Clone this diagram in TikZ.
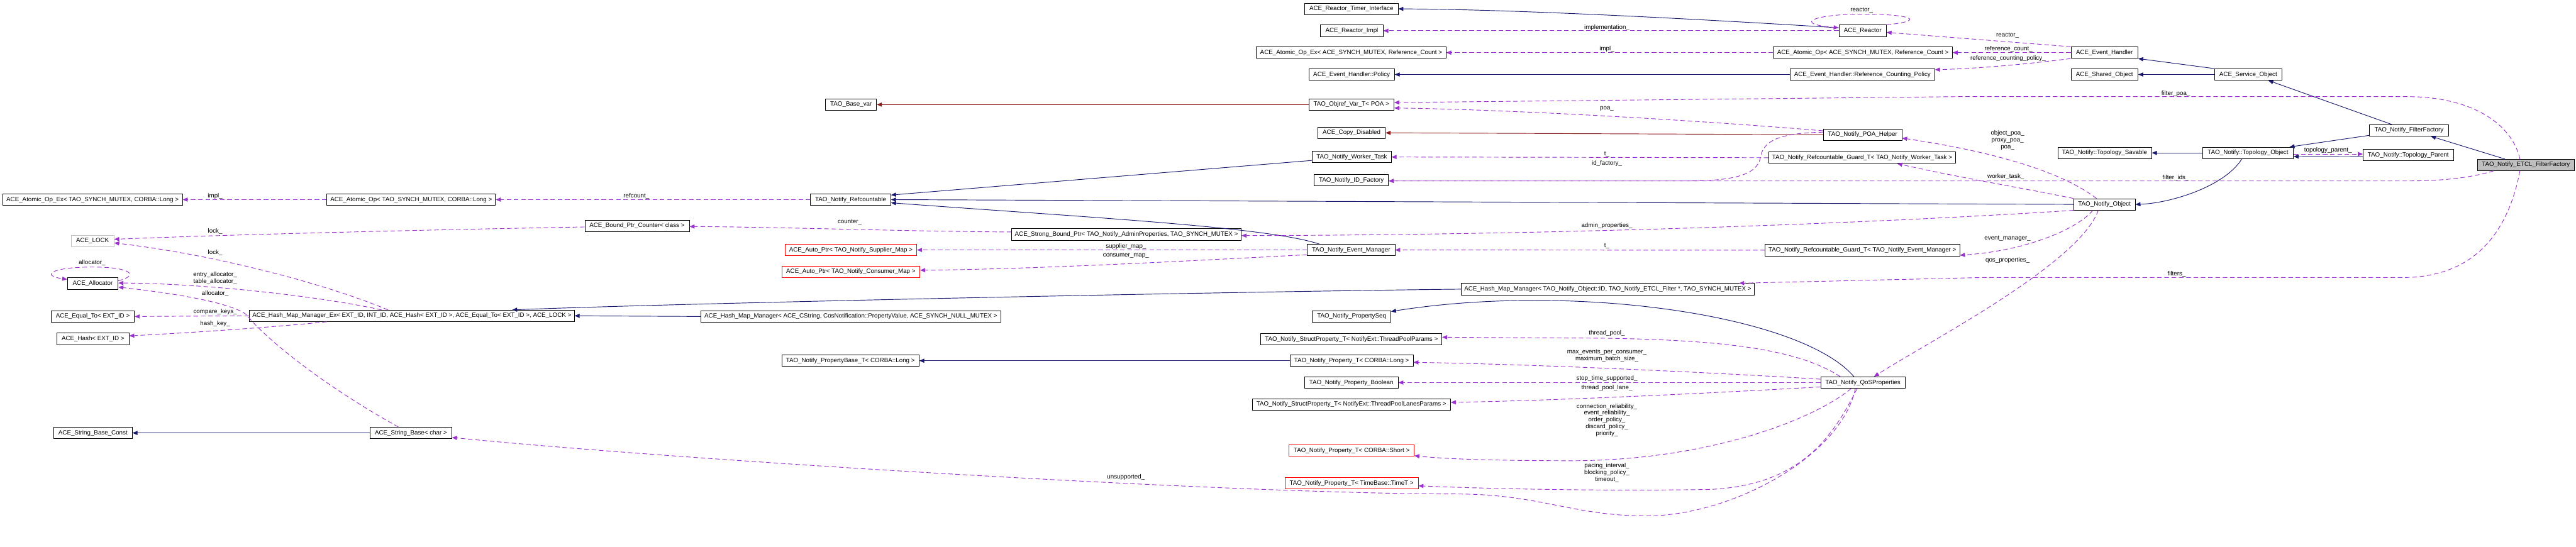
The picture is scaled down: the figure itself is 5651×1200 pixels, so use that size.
\documentclass[tikz,border=0pt]{standalone}
\usepackage{fontspec}
\setmainfont{Liberation Sans}
\usetikzlibrary{arrows.meta}
\definecolor{navyc}{HTML}{191970}
\definecolor{orchidc}{HTML}{9A32CD}
\definecolor{brickc}{HTML}{8B1A1A}
\definecolor{grayc}{HTML}{BFBFBF}
\begin{document}
\begin{tikzpicture}[x=1pt,y=-1pt,
  font=\fontsize{13.5pt}{15pt}\selectfont,
  boxn/.style={draw=black,line width=1.1pt,minimum height=25pt,inner sep=0pt,fill=white},
  redboxn/.style={boxn,draw=red},
  tipn/.style={-{Triangle[length=11pt,width=9pt]}},
  inhline/.style={draw=navyc,line width=1.3pt,tipn},
  privline/.style={draw=brickc,line width=1.3pt,tipn},
  usedash/.style={draw=orchidc,line width=1.3pt,dash pattern=on 10pt off 6pt,tipn},
  lblt/.style={inner sep=0pt,align=center}]
\useasboundingbox[fill=white] (0,0) rectangle (5651,1200);

% ---------- nodes ----------
\node[boxn,minimum width=205pt] (timer) at (2964.5,19.5) {ACE\_Reactor\_Timer\_Interface};
\node[boxn,minimum width=137pt] (rimpl) at (2965.5,67.5) {ACE\_Reactor\_Impl};
\node[boxn,minimum width=104pt] (reactor) at (4086,67.5) {ACE\_Reactor};
\node[boxn,minimum width=416pt] (aopexrc) at (2964,115.5) {ACE\_Atomic\_Op\_Ex< ACE\_SYNCH\_MUTEX, Reference\_Count >};
\node[boxn,minimum width=393pt] (aoprc) at (4086.5,115.5) {ACE\_Atomic\_Op< ACE\_SYNCH\_MUTEX, Reference\_Count >};
\node[boxn,minimum width=188pt] (ehpol) at (2965,163.5) {ACE\_Event\_Handler::Policy};
\node[boxn,minimum width=317pt] (ehrcp) at (4085.5,163.5) {ACE\_Event\_Handler::Reference\_Counting\_Policy};
\node[boxn,minimum width=147pt] (eh) at (4616.5,115.5) {ACE\_Event\_Handler};
\node[boxn,minimum width=147pt] (shobj) at (4616.5,163.5) {ACE\_Shared\_Object};
\node[boxn,minimum width=148pt] (svcobj) at (4932,163.5) {ACE\_Service\_Object};
\node[boxn,minimum width=112pt] (basevar) at (1867,229.5) {TAO\_Base\_var};
\node[boxn,minimum width=187pt] (objref) at (2964.5,229.5) {TAO\_Objref\_Var\_T< POA >};
\node[boxn,minimum width=148pt] (copydis) at (2965,291.5) {ACE\_Copy\_Disabled};
\node[boxn,minimum width=172pt] (poahelp) at (4086,295.5) {TAO\_Notify\_POA\_Helper};
\node[boxn,minimum width=173pt] (ffactory) at (5284.5,286) {TAO\_Notify\_FilterFactory};
\node[boxn,minimum width=173pt] (wtask) at (2965.5,344.5) {TAO\_Notify\_Worker\_Task};
\node[boxn,minimum width=410pt] (guardwt) at (4085,346) {TAO\_Notify\_Refcountable\_Guard\_T< TAO\_Notify\_Worker\_Task >};
\node[boxn,minimum width=206pt] (tsav) at (4617,335.5) {TAO\_Notify::Topology\_Savable};
\node[boxn,minimum width=199pt] (tobj) at (4931.5,335.5) {TAO\_Notify::Topology\_Object};
\node[boxn,minimum width=198pt] (tpar) at (5283,340.5) {TAO\_Notify::Topology\_Parent};
\node[boxn,fill=grayc,minimum width=212pt] (etcl) at (5541,362) {TAO\_Notify\_ETCL\_FilterFactory};
\node[boxn,minimum width=163pt] (idfac) at (2964.5,395.5) {TAO\_Notify\_ID\_Factory};
\node[boxn,minimum width=394pt] (aopexl) at (203,438) {ACE\_Atomic\_Op\_Ex< TAO\_SYNCH\_MUTEX, CORBA::Long >};
\node[boxn,minimum width=370pt] (aopl) at (902,438) {ACE\_Atomic\_Op< TAO\_SYNCH\_MUTEX, CORBA::Long >};
\node[boxn,minimum width=176pt] (refc) at (1866,438) {TAO\_Notify\_Refcountable};
\node[boxn,minimum width=135pt] (nobj) at (4616.5,448.5) {TAO\_Notify\_Object};
\node[boxn,minimum width=229pt] (bpc) at (1397.5,495.5) {ACE\_Bound\_Ptr\_Counter< class >};
\node[boxn,minimum width=504pt] (sbp) at (2471,514.5) {ACE\_Strong\_Bound\_Ptr< TAO\_Notify\_AdminProperties, TAO\_SYNCH\_MUTEX >};
\node[boxn,draw=grayc,minimum width=94pt] (lock) at (203,528.5) {ACE\_LOCK};
\node[redboxn,minimum width=289pt] (supmap) at (1866.5,548.5) {ACE\_Auto\_Ptr< TAO\_Notify\_Supplier\_Map >};
\node[boxn,minimum width=192pt] (evm) at (2964,548.5) {TAO\_Notify\_Event\_Manager};
\node[boxn,minimum width=427pt] (guardem) at (4085.5,549) {TAO\_Notify\_Refcountable\_Guard\_T< TAO\_Notify\_Event\_Manager >};
\node[redboxn,minimum width=303pt] (conmap) at (1866.5,596.5) {ACE\_Auto\_Ptr< TAO\_Notify\_Consumer\_Map >};
\node[boxn,minimum width=111pt] (alloc) at (203.5,622) {ACE\_Allocator};
\node[boxn,minimum width=642pt] (hmmfilt) at (3527,634.5) {ACE\_Hash\_Map\_Manager< TAO\_Notify\_Object::ID, TAO\_Notify\_ETCL\_Filter *, TAO\_SYNCH\_MUTEX >};
\node[boxn,minimum width=713pt] (hmmex) at (903.5,693) {ACE\_Hash\_Map\_Manager\_Ex< EXT\_ID, INT\_ID, ACE\_Hash< EXT\_ID >, ACE\_Equal\_To< EXT\_ID >, ACE\_LOCK >};
\node[boxn,minimum width=183pt] (eqto) at (203.5,694.5) {ACE\_Equal\_To< EXT\_ID >};
\node[boxn,minimum width=657pt] (hmmcs) at (1866.5,694.5) {ACE\_Hash\_Map\_Manager< ACE\_CString, CosNotification::PropertyValue, ACE\_SYNCH\_NULL\_MUTEX >};
\node[boxn,minimum width=172pt] (pseq) at (2965,694.5) {TAO\_Notify\_PropertySeq};
\node[boxn,minimum width=158pt] (hash) at (204,743.5) {ACE\_Hash< EXT\_ID >};
\node[boxn,minimum width=397pt] (sptp) at (2964.5,744.5) {TAO\_Notify\_StructProperty\_T< NotifyExt::ThreadPoolParams >};
\node[boxn,minimum width=301pt] (pbl) at (1865.5,791.5) {TAO\_Notify\_PropertyBase\_T< CORBA::Long >};
\node[boxn,minimum width=270pt] (ptl) at (2965,791.5) {TAO\_Notify\_Property\_T< CORBA::Long >};
\node[boxn,minimum width=205pt] (pbool) at (2964.5,839.5) {TAO\_Notify\_Property\_Boolean};
\node[boxn,minimum width=185pt] (qos) at (4086.5,839.5) {TAO\_Notify\_QoSProperties};
\node[boxn,minimum width=435pt] (sptl) at (2964.5,887.5) {TAO\_Notify\_StructProperty\_T< NotifyExt::ThreadPoolLanesParams >};
\node[boxn,minimum width=172pt] (sbc) at (204,950) {ACE\_String\_Base\_Const};
\node[boxn,minimum width=179pt] (sbchar) at (901.5,950) {ACE\_String\_Base< char >};
\node[redboxn,minimum width=274pt] (pshort) at (2965,988.5) {TAO\_Notify\_Property\_T< CORBA::Short >};
\node[redboxn,minimum width=292pt] (ptime) at (2965,1060.5) {TAO\_Notify\_Property\_T< TimeBase::TimeT >};

% ---------- inheritance ----------
\draw[inhline] ([yshift=6.5pt]reactor.west) .. controls (3700,40) and (3300,20) .. (timer.east);
\draw[inhline] (ehrcp.west) -- (ehpol.east);
\draw[inhline] (svcobj.north west) -- (eh.south east);
\draw[inhline] (svcobj.west) -- (shobj.east);
\draw[inhline] ([xshift=-38pt]ffactory.north) -- ([xshift=44pt]svcobj.south);
\draw[inhline] ([xshift=-46pt]etcl.north) -- ([xshift=48pt]ffactory.south);
\draw[inhline] ([yshift=2pt]ffactory.south west) -- ([xshift=-9pt]tobj.north east);
\draw[inhline] (tobj.west) -- (tsav.east);
\draw[inhline] ([yshift=-3.5pt]tpar.west) -- ([yshift=-8pt]tobj.east);
\draw[inhline] ([xshift=-13.5pt]tobj.south) .. controls (4880,410) and (4760,446) .. (nobj.east);
\draw[inhline] (nobj.west) -- (refc.east);
\draw[inhline] ([yshift=-7.5pt]wtask.west) -- ([yshift=10pt]refc.east);
\draw[inhline] ([xshift=-70pt]evm.north) .. controls (2780,498) and (2400,478) .. ([yshift=-7pt]refc.east);
\draw[inhline] (hmmfilt.west) .. controls (2700,640) and (1500,665) .. ([xshift=220pt]hmmex.north);
\draw[inhline] (hmmcs.west) -- (hmmex.east);
\draw[inhline] ([xshift=-19.5pt]qos.north) .. controls (3950,690) and (3450,620) .. ([yshift=11pt]pseq.east);
\draw[inhline] (ptl.west) -- (pbl.east);
\draw[inhline] (sbchar.west) -- (sbc.east);
\draw[privline] (objref.west) -- (basevar.east);
\draw[privline] (poahelp.west) -- (copydis.east);

% ---------- usage ----------
\draw[usedash] (reactor.north east) .. controls (4230,45) and (4190,31) .. (4086,31) .. controls (3980,31) and (3930,52) .. ([yshift=6.5pt]reactor.west);
\node[lblt] (l01) at (4084,22) {reactor\_};
\draw[usedash] (reactor.west) -- (rimpl.east);
\node[lblt] (l02) at (3525,60) {implementation\_};
\draw[usedash] (eh.north west) -- ([yshift=-3.5pt]reactor.east);
\node[lblt] (l03) at (4404,77) {reactor\_};
\draw[usedash] (eh.west) -- (aoprc.east);
\node[lblt] (l04) at (4406,108) {reference\_count\_};
\draw[usedash] (eh.south west) .. controls (4450,140) and (4350,150) .. ([yshift=10.5pt]ehrcp.east);
\node[lblt] (l05) at (4405,128) {reference\_counting\_policy\_};
\draw[usedash] (aoprc.west) -- (aopexrc.east);
\node[lblt] (l06) at (3525,108) {impl\_};
\draw[usedash] ([xshift=-13pt]etcl.north) .. controls (5510,270) and (5420,212) .. (5280,212) -- (4300,212) -- ([yshift=4.5pt]objref.east);
\node[lblt] (l07) at (4773,205) {filter\_poa\_};
\draw[usedash] ([yshift=8.5pt]poahelp.west) .. controls (3700,262) and (3300,240) .. ([yshift=-7.5pt]objref.east);
\node[lblt] (l08) at (3525,239) {poa\_};
\draw[usedash] ([yshift=5.5pt]poahelp.west) .. controls (3900,292) and (3868,310) .. (3862,345) .. controls (3855,385) and (3800,397) .. (3700,397) -- ([yshift=-1.5pt]idfac.east);
\node[lblt] (l09) at (3525,359) {id\_factory\_};
\draw[usedash] ([xshift=-71pt]etcl.south) .. controls (5420,390) and (5360,397) .. (5280,397) -- ([yshift=-1.5pt]idfac.east);
\node[lblt] (l10) at (4773,390) {filter\_ids\_};
\draw[usedash] ([xshift=-17.5pt]nobj.north) .. controls (4540,390) and (4420,340) .. ([yshift=-7.5pt]poahelp.east);
\node[lblt] (l11) at (4404,308) {object\_poa\_\\proxy\_poa\_\\poa\_};
\draw[usedash] (nobj.north west) .. controls (4450,415) and (4300,390) .. ([xshift=77pt]guardwt.south);
\node[lblt] (l12) at (4400,388) {worker\_task\_};
\draw[usedash] (nobj.south west) .. controls (4300,478) and (3600,515) .. ([yshift=-2.5pt]sbp.east);
\node[lblt] (l13) at (3525,495) {admin\_properties\_};
\draw[usedash] ([yshift=5.5pt]sbp.west) .. controls (2000,508) and (1700,498) .. ([yshift=-1.5pt]bpc.east);
\node[lblt] (l14) at (1864,488) {counter\_};
\draw[usedash] ([yshift=-2.5pt]bpc.west) .. controls (900,505) and (500,515) .. ([yshift=3.5pt]lock.east);
\node[lblt] (l15) at (472,508) {lock\_};
\draw[usedash] ([xshift=-52.5pt]hmmex.north) .. controls (720,625) and (480,560) .. ([yshift=-4.5pt]lock.east);
\node[lblt] (l16) at (472,554) {lock\_};
\draw[usedash] ([xshift=-66.5pt]hmmex.north) .. controls (700,650) and (450,622) .. ([yshift=1pt]alloc.east);
\node[lblt] (l17) at (472,610) {entry\_allocator\_\\table\_allocator\_};
\draw[usedash] ([yshift=6pt]alloc.east) .. controls (305,605) and (290,586) .. (203,586) .. controls (110,586) and (90,605) .. ([yshift=9pt]alloc.west);
\node[lblt] (l18) at (202,577) {allocator\_};
\draw[usedash] ([xshift=-27.5pt]sbchar.north) .. controls (700,840) and (580,740) .. (540,690) .. controls (500,660) and (350,640) .. ([yshift=-8pt]alloc.east);
\node[lblt] (l19) at (472,644) {allocator\_};
\draw[usedash] (hmmex.west) -- (eqto.east);
\node[lblt] (l20) at (472,684) {compare\_keys\_};
\draw[usedash] ([xshift=-186.5pt]hmmex.south) .. controls (600,718) and (420,730) .. ([yshift=6.5pt]hash.east);
\node[lblt] (l21) at (472,711) {hash\_key\_};
\draw[usedash] (refc.west) -- (aopl.east);
\node[lblt] (l22) at (1396,431) {refcount\_};
\draw[usedash] (aopl.west) -- (aopexl.east);
\node[lblt] (l23) at (472,431) {impl\_};
\draw[usedash] (evm.west) -- (supmap.east);
\node[lblt] (l24) at (2470,541) {supplier\_map\_};
\draw[usedash] ([yshift=-10.5pt]evm.west) .. controls (2650,570) and (2300,590) .. ([yshift=3.5pt]conmap.east);
\node[lblt] (l25) at (2470,561) {consumer\_map\_};
\draw[usedash] ([xshift=-25.5pt]nobj.south) .. controls (4560,500) and (4450,550) .. ([yshift=-11pt]guardem.east);
\node[lblt] (l26) at (4404,524) {event\_manager\_};
\draw[usedash] (guardem.west) -- (evm.east);
\node[lblt] (l27) at (3525,540) {t\_};
\draw[usedash] (guardwt.west) -- (wtask.east);
\node[lblt] (l28) at (3525,338) {t\_};
\draw[usedash] ([xshift=-13pt]etcl.south) .. controls (5500,520) and (5420,609) .. (5270,609) -- (4350,609) -- ([xshift=288pt]hmmfilt.north);
\node[lblt] (l29) at (4775,601) {filters\_};
\draw[usedash] ([xshift=-13.5pt]nobj.south) .. controls (4560,580) and (4230,750) .. ([xshift=24.5pt]qos.north);
\node[lblt] (l30) at (4404,571) {qos\_properties\_};
\draw[usedash] ([xshift=-49.5pt]qos.north) .. controls (3950,770) and (3800,745) .. (3500,742) -- ([yshift=4.5pt]sptp.east);
\node[lblt] (l31) at (3525,731) {thread\_pool\_};
\draw[usedash] ([yshift=7.5pt]qos.west) .. controls (3800,820) and (3400,800) .. ([yshift=-3.5pt]ptl.east);
\node[lblt] (l32) at (3525,781) {max\_events\_per\_consumer\_\\maximum\_batch\_size\_};
\draw[usedash] (qos.west) -- (pbool.east);
\node[lblt] (l33) at (3525,831) {stop\_time\_supported\_};
\draw[usedash] ([yshift=-9.5pt]qos.west) .. controls (3800,860) and (3450,878) .. ([yshift=4.5pt]sptl.east);
\node[lblt] (l34) at (3525,851) {thread\_pool\_lane\_};
\draw[usedash] ([xshift=-25.5pt]qos.south) .. controls (3980,920) and (3750,1010) .. (3450,1011) .. controls (3300,1011) and (3180,1008) .. ([yshift=-11.5pt]pshort.east);
\node[lblt] (l35) at (3525,922) {connection\_reliability\_\\event\_reliability\_\\order\_policy\_\\discard\_policy\_\\priority\_};
\draw[usedash] ([xshift=-12.5pt]qos.south) .. controls (4020,960) and (3950,1065) .. (3750,1074) .. controls (3500,1078) and (3250,1072) .. ([yshift=-5.5pt]ptime.east);
\node[lblt] (l36) at (3525,1037) {pacing\_interval\_\\blocking\_policy\_\\timeout\_};
\draw[usedash] ([xshift=-16.5pt]qos.south) .. controls (4040,1000) and (3800,1132) .. (3612,1132) .. controls (3450,1132) and (3380,1085) .. (3200,1084) .. controls (2700,1084) and (1500,1010) .. ([yshift=-10pt]sbchar.east);
\node[lblt] (l37) at (2470,1047) {unsupported\_};
\draw[usedash] ([yshift=-2.5pt]tobj.east) -- ([yshift=2.5pt]tpar.west);
\node[lblt] (l38) at (5107,330) {topology\_parent\_};
\end{tikzpicture}
\end{document}
